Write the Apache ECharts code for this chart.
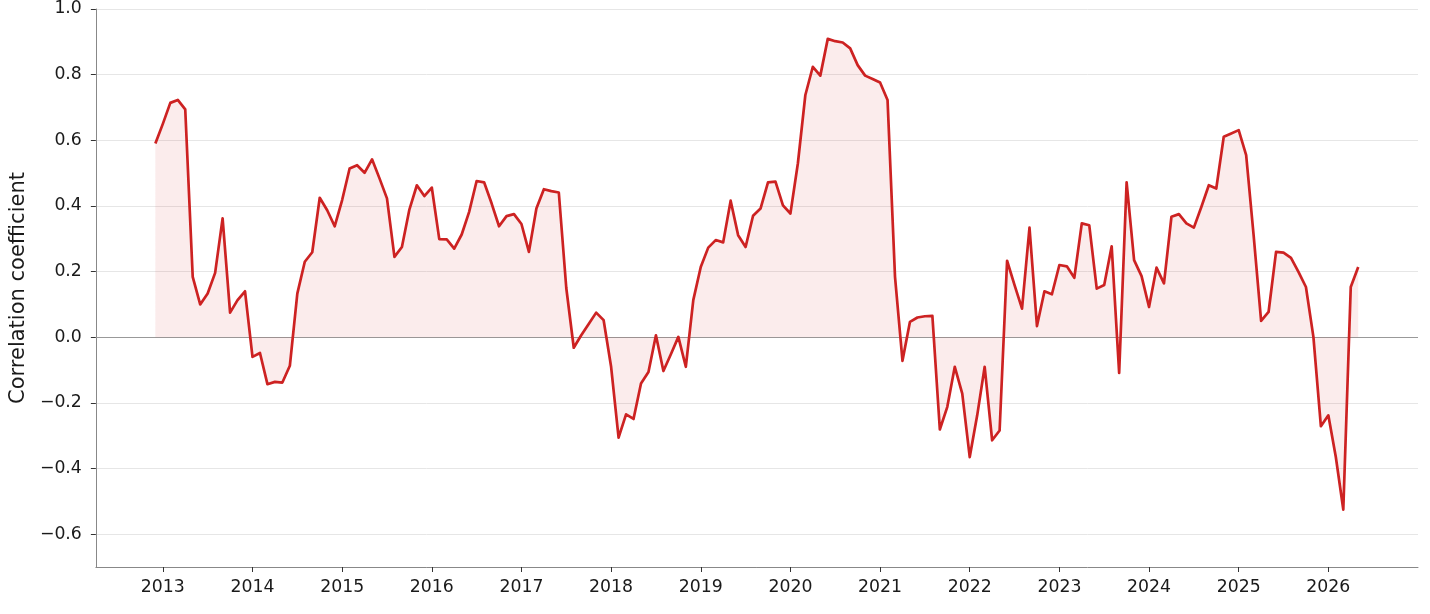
<!DOCTYPE html>
<html>
<head>
<meta charset="utf-8">
<script src="https://cdn.jsdelivr.net/npm/echarts@6/dist/echarts.min.js"></script>
<style>
html,body{margin:0;padding:0;background:#fff;}
#chart{width:1430px;height:614px;}
</style>
</head>
<body>
<div id="chart"></div>
<script>
// Monthly correlation coefficient, first value = Dec 2012
const startYear = 2012;
const startMonth = 12;
const values2012 = [0.59];
const values2013 = [0.65, 0.714, 0.723, 0.694, 0.184, 0.10, 0.133, 0.196, 0.362, 0.075, 0.113, 0.14];
const values2014 = [-0.06, -0.048, -0.143, -0.136, -0.138, -0.087, 0.133, 0.23, 0.259, 0.425, 0.387, 0.338];
const values2015 = [0.418, 0.514, 0.524, 0.501, 0.542, 0.484, 0.423, 0.245, 0.275, 0.389, 0.463, 0.43];
const values2016 = [0.456, 0.299, 0.298, 0.27, 0.313, 0.382, 0.476, 0.472, 0.408, 0.338, 0.369, 0.375];
const values2017 = [0.345, 0.26, 0.392, 0.451, 0.445, 0.441, 0.15, -0.032, 0.006, 0.04, 0.075, 0.052];
const values2018 = [-0.09, -0.306, -0.235, -0.249, -0.141, -0.106, 0.006, -0.103, -0.052, 0.001, -0.09, 0.113];
const values2019 = [0.214, 0.273, 0.296, 0.289, 0.416, 0.311, 0.275, 0.37, 0.392, 0.472, 0.474, 0.402];
const values2020 = [0.377, 0.53, 0.738, 0.824, 0.797, 0.909, 0.902, 0.898, 0.88, 0.829, 0.797, 0.787];
const values2021 = [0.776, 0.723, 0.184, -0.072, 0.047, 0.06, 0.064, 0.065, -0.281, -0.212, -0.09, -0.172];
const values2022 = [-0.365, -0.238, -0.09, -0.314, -0.284, 0.233, 0.159, 0.087, 0.334, 0.034, 0.14, 0.131];
const values2023 = [0.22, 0.216, 0.181, 0.347, 0.341, 0.148, 0.159, 0.277, -0.109, 0.472, 0.235, 0.186];
const values2024 = [0.092, 0.212, 0.164, 0.367, 0.375, 0.347, 0.334, 0.397, 0.463, 0.453, 0.611, 0.621];
const values2025 = [0.631, 0.555, 0.31, 0.05, 0.077, 0.26, 0.258, 0.242, 0.199, 0.153, 0.001, -0.271];
const values2026 = [-0.238, -0.365, -0.525, 0.153, 0.214];

const xTickYears = [2013, 2014, 2015, 2016, 2017, 2018, 2019, 2020, 2021, 2022, 2023, 2024, 2025, 2026];
const yTickValues = [-0.6, -0.4, -0.2, 0.0, 0.2, 0.4, 0.6, 0.8, 1.0];

const allValues = [].concat(values2012, values2013, values2014, values2015, values2016,
  values2017, values2018, values2019, values2020, values2021, values2022, values2023,
  values2024, values2025, values2026);

const seriesData = allValues.map((v, i) => {
  const m = startMonth - 1 + i;
  const year = startYear + Math.floor(m / 12);
  const month = m % 12;
  return [year + month / 12, v];
});

const chart = echarts.init(document.getElementById('chart'), null, {renderer: 'canvas'});
const font = 'DejaVu Sans';
chart.setOption({
  animation: false,
  backgroundColor: '#ffffff',
  grid: {left: 95, right: 12, top: 9, bottom: 47, containLabel: false},
  xAxis: {
    type: 'value',
    min: 2012.253,
    max: 2027.0,
    axisLine: {show: true, onZero: false, lineStyle: {color: '#888888', width: 1}},
    axisTick: {show: true, inside: false, length: 5, customValues: xTickYears, lineStyle: {color: '#333333', width: 1}},
    axisLabel: {show: true, customValues: xTickYears, margin: 12, fontFamily: font, fontSize: 17.3, color: '#1a1a1a',
      formatter: v => String(Math.round(v))},
    splitLine: {show: false}
  },
  yAxis: {
    type: 'value',
    min: -0.7,
    max: 1.0,
    name: 'Correlation coefficient',
    nameLocation: 'middle',
    nameGap: 62,
    nameRotate: 90,
    nameTextStyle: {fontFamily: font, fontSize: 21, color: '#1a1a1a'},
    axisLine: {show: true, lineStyle: {color: '#888888', width: 1}},
    axisTick: {show: true, inside: false, length: 5, customValues: yTickValues, lineStyle: {color: '#333333', width: 1}},
    axisLabel: {show: true, customValues: yTickValues, margin: 14, fontFamily: font, fontSize: 17.3, color: '#1a1a1a',
      formatter: v => v.toFixed(1).replace('-', '\u2212')},
    splitLine: {show: true, lineStyle: {color: '#e6e6e6', width: 1}}
  },
  series: [{
    type: 'line',
    data: seriesData,
    showSymbol: false,
    symbol: 'none',
    lineStyle: {color: '#cd2222', width: 2.7, join: 'round'},
    itemStyle: {color: '#cd2222'},
    areaStyle: {color: 'rgba(214,39,40,0.12)', origin: 0},
    z: 3,
    markLine: {
      silent: true,
      symbol: 'none',
      label: {show: false},
      lineStyle: {color: '#999999', width: 1.2, type: 'solid'},
      data: [{yAxis: 0}],
      z: 2
    }
  }]
});
</script>
</body>
</html>
